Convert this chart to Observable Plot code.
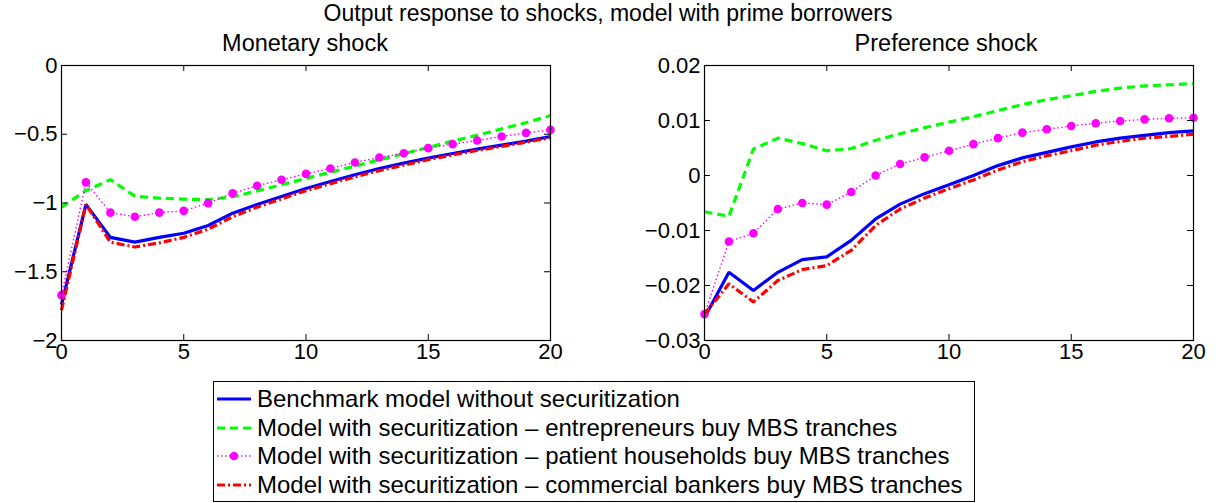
<!DOCTYPE html>
<html>
<head>
<meta charset="utf-8">
<script src="https://cdn.jsdelivr.net/npm/d3@7"></script>
<script src="https://cdn.jsdelivr.net/npm/@observablehq/plot@0.6"></script>
<style>
  html, body { margin: 0; padding: 0; background: #fff; }
  #chart { position: relative; width: 1216px; height: 503px; font-family: "Liberation Sans", Arial, sans-serif; color: #000; overflow: hidden; }
  .t { position: absolute; white-space: nowrap; transform: translateX(-50%); line-height: 1; }
  #legend { position: absolute; left: 213px; top: 381px; width: 760px; height: 119px; border: 1px solid #000; background: #fff; }
  .row { position: absolute; left: 0; height: 28px; display: flex; align-items: center; font-size: 24px; white-space: nowrap; }
  .row svg { margin-left: 3px; margin-right: 6px; }
</style>
</head>
<body>
<div id="chart"></div>
<script>
// ---- data ----
const periods = [0,1,2,3,4,5,6,7,8,9,10,11,12,13,14,15,16,17,18,19,20];
const seriesNames = [
  "Benchmark model without securitization",
  "Model with securitization \u2013 entrepreneurs buy MBS tranches",
  "Model with securitization \u2013 patient households buy MBS tranches",
  "Model with securitization \u2013 commercial bankers buy MBS tranches"
];
// Monetary shock
const monBenchmark = [-1.74,-1.01,-1.25,-1.285,-1.25,-1.22,-1.164,-1.074,-1.011,-0.953,-0.895,-0.844,-0.795,-0.749,-0.71,-0.674,-0.64,-0.608,-0.579,-0.55,-0.516];
const monEntrepreneurs = [-1.03,-0.91,-0.83,-0.95,-0.965,-0.972,-0.975,-0.955,-0.912,-0.867,-0.822,-0.776,-0.732,-0.686,-0.641,-0.596,-0.55,-0.507,-0.461,-0.416,-0.364];
const monPatient = [-1.67,-0.85,-1.07,-1.10,-1.07,-1.057,-1.001,-0.929,-0.875,-0.831,-0.788,-0.749,-0.705,-0.669,-0.638,-0.601,-0.572,-0.545,-0.516,-0.49,-0.468];
const monBankers = [-1.78,-1.01,-1.285,-1.32,-1.29,-1.25,-1.19,-1.10,-1.03,-0.97,-0.91,-0.86,-0.81,-0.765,-0.725,-0.685,-0.65,-0.618,-0.588,-0.558,-0.525];
// Preference shock
const prefBenchmark = [-0.0258,-0.0176,-0.0209,-0.0176,-0.0153,-0.0148,-0.0118,-0.0079,-0.0052,-0.0033,-0.0017,0.0,0.0018,0.0032,0.0042,0.0052,0.0061,0.0068,0.0073,0.0078,0.0081];
const prefEntrepreneurs = [-0.0066,-0.0074,0.0048,0.0068,0.0058,0.0045,0.0049,0.0064,0.0076,0.0087,0.0097,0.0107,0.0118,0.0129,0.0138,0.0145,0.0153,0.0159,0.0163,0.0165,0.0167];
const prefPatient = [-0.0252,-0.012,-0.0105,-0.0061,-0.005,-0.0053,-0.003,0.0,0.0021,0.0033,0.0045,0.0057,0.0068,0.0078,0.0084,0.009,0.0095,0.0099,0.0102,0.0104,0.0105];
const prefBankers = [-0.0252,-0.0197,-0.023,-0.0191,-0.0171,-0.0164,-0.0136,-0.0091,-0.0061,-0.0041,-0.0024,-0.0008,0.001,0.0025,0.0036,0.0045,0.0055,0.0062,0.0068,0.0071,0.0075];
// ticks
const xTicks = [0,5,10,15,20];
const monYTicks = [-2,-1.5,-1,-0.5,0];
const prefYTicks = [-0.03,-0.02,-0.01,0,0.01,0.02];
const chartTitle = "Output response to shocks, model with prime borrowers";
const panelTitles = ["Monetary shock", "Preference shock"];

// ---- styles ----
const styles = [
  {stroke: "#0000ff", strokeWidth: 3.2, dash: null},
  {stroke: "#00ff00", strokeWidth: 3.2, dash: "8,5"},
  {stroke: "#ff00ff", strokeWidth: 1.4, dash: "1.5,2.5", dots: true},
  {stroke: "#ff0000", strokeWidth: 3.2, dash: "8,3,2,3"}
];

const fmt = d => String(+d.toFixed(4)).replace("-", "\u2212");

function panel(series, yDomain, yTicks, o) {
  const innerW = o.width - o.marginLeft - o.marginRight;
  const innerH = o.height - o.marginTop - o.marginBottom;
  const marks = [];
  series.forEach((vals, i) => {
    const s = styles[i];
    const data = periods.map((t, k) => ({t, v: vals[k]}));
    marks.push(Plot.line(data, {x: "t", y: "v", stroke: s.stroke, strokeWidth: s.strokeWidth,
      strokeDasharray: s.dash || undefined, strokeLinejoin: "miter", strokeLinecap: "butt"}));
    if (s.dots) marks.push(Plot.dot(data, {x: "t", y: "v", r: 4.3, fill: s.stroke, stroke: "none"}));
  });
  marks.push(Plot.frame({stroke: "#000", strokeWidth: 1.2}));
  marks.push(Plot.tickX(xTicks, {x: d => d, insetTop: innerH - 6, stroke: "#000"}));
  marks.push(Plot.tickX(xTicks, {x: d => d, insetBottom: innerH - 6, stroke: "#000"}));
  marks.push(Plot.tickY(yTicks, {y: d => d, insetRight: innerW - 6, stroke: "#000"}));
  marks.push(Plot.tickY(yTicks, {y: d => d, insetLeft: innerW - 6, stroke: "#000"}));
  marks.push(Plot.axisX(xTicks, {tickSize: 0, tickPadding: 3, tickFormat: fmt, fontSize: 22}));
  marks.push(Plot.axisY(yTicks, {tickSize: 0, tickPadding: 4, tickFormat: fmt, fontSize: 22}));
  const svg = Plot.plot({
    width: o.width, height: o.height,
    marginLeft: o.marginLeft, marginRight: o.marginRight, marginTop: o.marginTop, marginBottom: o.marginBottom,
    x: {domain: [0, 20], label: null},
    y: {domain: yDomain, label: null},
    style: {fontFamily: "'Liberation Sans', Arial, sans-serif", fontSize: "22px", color: "#000", background: "transparent", overflow: "visible"},
    marks
  });
  svg.style.position = "absolute";
  svg.style.left = o.left + "px";
  svg.style.top = o.top + "px";
  return svg;
}

const chart = document.getElementById("chart");
chart.appendChild(panel([monBenchmark, monEntrepreneurs, monPatient, monBankers], [-2, 0], monYTicks,
  {left: 0, top: 40, width: 580, height: 340, marginLeft: 61, marginRight: 30, marginTop: 25, marginBottom: 40}));
chart.appendChild(panel([prefBenchmark, prefEntrepreneurs, prefPatient, prefBankers], [-0.03, 0.02], prefYTicks,
  {left: 608, top: 40, width: 608, height: 340, marginLeft: 96, marginRight: 23, marginTop: 25, marginBottom: 40}));

function addText(txt, x, y, size) {
  const d = document.createElement("div");
  d.className = "t"; d.textContent = txt;
  d.style.left = x + "px"; d.style.top = y + "px"; d.style.fontSize = size + "px";
  chart.appendChild(d);
}
addText(chartTitle, 608, 2, 23);
addText(panelTitles[0], 305, 32, 23.5);
addText(panelTitles[1], 946, 32, 23.5);

// legend
const legend = document.createElement("div");
legend.id = "legend";
seriesNames.forEach((name, i) => {
  const s = styles[i];
  const row = document.createElement("div");
  row.className = "row";
  row.style.top = (3 + i * 28.5) + "px";
  const ns = "http://www.w3.org/2000/svg";
  const sw = document.createElementNS(ns, "svg");
  sw.setAttribute("width", 34); sw.setAttribute("height", 12);
  const ln = document.createElementNS(ns, "line");
  ln.setAttribute("x1", 0); ln.setAttribute("x2", 34); ln.setAttribute("y1", 6); ln.setAttribute("y2", 6);
  ln.setAttribute("stroke", s.stroke); ln.setAttribute("stroke-width", s.strokeWidth);
  if (s.dash) ln.setAttribute("stroke-dasharray", s.dash);
  sw.appendChild(ln);
  if (s.dots) {
    const c = document.createElementNS(ns, "circle");
    c.setAttribute("cx", 17); c.setAttribute("cy", 6); c.setAttribute("r", 4.3); c.setAttribute("fill", s.stroke);
    sw.appendChild(c);
  }
  row.appendChild(sw);
  const sp = document.createElement("span");
  sp.textContent = name;
  row.appendChild(sp);
  legend.appendChild(row);
});
chart.appendChild(legend);
</script>
</body>
</html>
